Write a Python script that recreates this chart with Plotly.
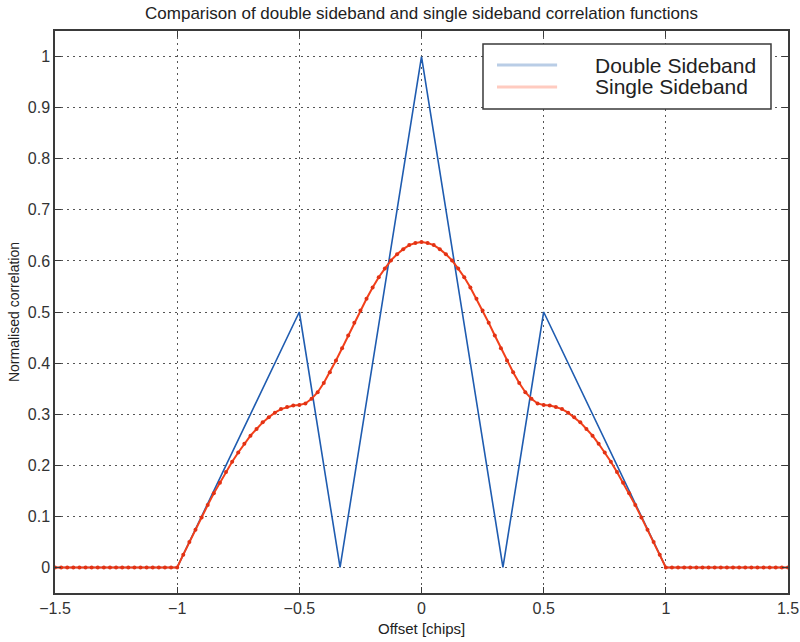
import numpy as np
import plotly.graph_objects as go

# ---------------- data ----------------
# Double sideband correlation (vertices of the piecewise-linear curve)
dsb_offset = [-1.5, -1.0, -0.5, -1/3, 0.0, 1/3, 0.5, 1.0, 1.5]
dsb_corr = [0.0, 0.0, 0.5, 0.0, 1.0, 0.0, 0.5, 0.0, 0.0]

# Single sideband correlation, sampled every 0.025 chip from -1.5 to 1.5
ssb_offset = np.round(np.linspace(-1.5, 1.5, 121), 4)
ssb_corr = [
    0.000, 0.000, 0.000, 0.000, 0.000, 0.000, 0.000, 0.000, 0.000, 0.000,
    0.000, 0.000, 0.000, 0.000, 0.000, 0.000, 0.000, 0.000, 0.000, 0.000,
    0.000, 0.025, 0.050, 0.074, 0.098, 0.122, 0.145, 0.166, 0.187, 0.207,
    0.225, 0.242, 0.258, 0.271, 0.284, 0.294, 0.303, 0.310, 0.314, 0.317,
    0.318, 0.321, 0.330, 0.343, 0.361, 0.382, 0.405, 0.429, 0.454, 0.479,
    0.503, 0.526, 0.548, 0.568, 0.585, 0.601, 0.613, 0.623, 0.631, 0.635,
    0.637,
    0.635, 0.631, 0.623, 0.613, 0.601, 0.585, 0.568, 0.548, 0.526, 0.503,
    0.479, 0.454, 0.429, 0.405, 0.382, 0.361, 0.343, 0.330, 0.321, 0.318,
    0.317, 0.314, 0.310, 0.303, 0.294, 0.284, 0.271, 0.258, 0.242, 0.225,
    0.207, 0.187, 0.166, 0.145, 0.122, 0.098, 0.074, 0.050, 0.025, 0.000,
    0.000, 0.000, 0.000, 0.000, 0.000, 0.000, 0.000, 0.000, 0.000, 0.000,
    0.000, 0.000, 0.000, 0.000, 0.000, 0.000, 0.000, 0.000, 0.000, 0.000,
]

x_ticks = [-1.5, -1.0, -0.5, 0.0, 0.5, 1.0, 1.5]
x_ticklabels = ["\u22121.5", "\u22121", "\u22120.5", "0", "0.5", "1", "1.5"]
y_ticks = [0, 0.1, 0.2, 0.3, 0.4, 0.5, 0.6, 0.7, 0.8, 0.9, 1]
y_ticklabels = ["0", "0.1", "0.2", "0.3", "0.4", "0.5", "0.6", "0.7", "0.8", "0.9", "1"]

legend_names = ["Double Sideband", "Single Sideband"]

BLUE = "#1f5cb0"
RED = "#f2401a"
FONT = "Liberation Sans, Arial, sans-serif"
AX = "#3a3a3a"

fig = go.Figure()
fig.add_trace(go.Scatter(x=dsb_offset, y=dsb_corr, mode="lines",
                         line=dict(color=BLUE, width=1.6),
                         name=legend_names[0], showlegend=False))
fig.add_trace(go.Scatter(x=ssb_offset, y=ssb_corr, mode="lines+markers",
                         line=dict(color=RED, width=2),
                         marker=dict(color="#e23214", size=4),
                         name=legend_names[1], showlegend=False))

axis_common = dict(showline=True, linecolor=AX, linewidth=1.5, mirror="ticks",
                   ticks="inside", ticklen=6, tickwidth=1.2, tickcolor=AX,
                   showgrid=True, gridcolor="#555555", gridwidth=1,
                   griddash="2px,4px", zeroline=False, automargin=False,
                   tickfont=dict(family=FONT, size=16, color="#333333"))

fig.update_xaxes(range=[-1.5, 1.5], tickvals=x_ticks, ticktext=x_ticklabels,
                 **axis_common)
fig.update_yaxes(range=[-0.05, 1.05], tickvals=y_ticks, ticktext=y_ticklabels,
                 **axis_common)

# manual legend (MATLAB style)
shapes = [
    dict(type="rect", xref="paper", yref="paper", x0=0.5839, x1=0.9768,
         y0=0.8612, y1=0.9769, line=dict(color=AX, width=1.5),
         fillcolor="white", layer="above"),
    dict(type="line", xref="paper", yref="paper", x0=0.603, x1=0.685,
         y0=0.9395, y1=0.9395, line=dict(color="#b9cde6", width=3), layer="above"),
    dict(type="line", xref="paper", yref="paper", x0=0.603, x1=0.685,
         y0=0.9004, y1=0.9004, line=dict(color="#ffcbc0", width=3), layer="above"),
]
annotations = [
    dict(text=legend_names[0], xref="paper", yref="paper", x=0.734, y=0.9395,
         xanchor="left", yanchor="middle", showarrow=False,
         font=dict(family=FONT, size=21, color="#222222")),
    dict(text=legend_names[1], xref="paper", yref="paper", x=0.734, y=0.9004,
         xanchor="left", yanchor="middle", showarrow=False,
         font=dict(family=FONT, size=21, color="#222222")),
    dict(text="Offset [chips]", xref="paper", yref="paper", x=0.5, y=-0.0623,
         xanchor="center", yanchor="middle", showarrow=False,
         font=dict(family=FONT, size=15, color="#222222")),
    dict(text="Normalised correlation", xref="paper", yref="paper", x=-0.0559,
         y=0.5, xanchor="center", yanchor="middle", textangle=-90,
         showarrow=False, font=dict(family=FONT, size=14, color="#222222")),
]

fig.update_layout(
    width=800, height=642,
    margin=dict(l=55, r=12, t=31, b=49, autoexpand=False),
    paper_bgcolor="white", plot_bgcolor="white",
    title=dict(text="Comparison of double sideband and single sideband correlation functions",
               x=0.5, xref="paper", xanchor="center", y=1 - 13 / 642,
               yref="container", yanchor="middle",
               font=dict(family=FONT, size=17, color="#222222")),
    shapes=shapes, annotations=annotations, showlegend=False,
)

fig.write_html("out.html")
